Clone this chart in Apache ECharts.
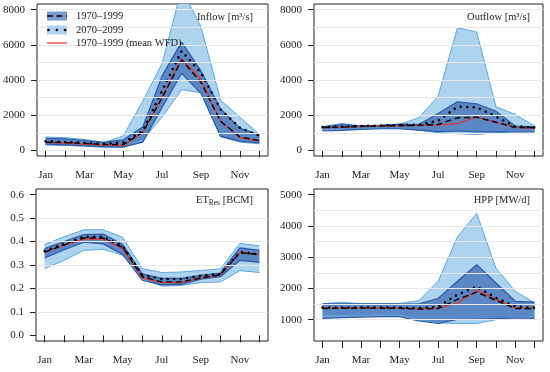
<!DOCTYPE html>
<html>
<head>
<meta charset="utf-8">
<script src="https://cdn.jsdelivr.net/npm/echarts@6/dist/echarts.min.js"></script>
<style>html,body{margin:0;padding:0;background:#fff}#c{width:550px;height:372px}</style>
</head>
<body>
<div id="c"></div>
<script>
// ---- data ----
const months = [1,2,3,4,5,6,7,8,9,10,11,12];
const monthLabels = ['Jan','Feb','Mar','Apr','May','Jun','Jul','Aug','Sep','Oct','Nov','Dec'];
const monthLabelTicks = [1,3,5,7,9,11];

// Inflow [m3/s]
const inflowFutLo   = [300, 280, 250, 170, 170, 600, 1900, 3450, 3280, 780, 470, 370];
const inflowFutHi   = [760, 720, 620, 450, 830, 2800, 4950, 9200, 7000, 2850, 1880, 900];
const inflowHistLo  = [350, 310, 260, 210, 200, 470, 2450, 4380, 3230, 800, 530, 430];
const inflowHistHi  = [680, 660, 560, 460, 600, 1330, 4250, 6150, 4500, 2350, 1250, 880];
const inflowHistMean= [470, 440, 400, 330, 330, 1030, 3000, 5150, 3850, 1650, 760, 560];
const inflowFutMean = [520, 480, 420, 370, 450, 1100, 3400, 5650, 4400, 2330, 1280, 830];
const inflowWFD     = [450, 410, 360, 300, 270, 1000, 3080, 5220, 4030, 1660, 720, 530];

// Outflow [m3/s]
const outFutLo   = [1150, 1180, 1220, 1250, 1250, 1150, 1000, 950, 900, 1000, 1080, 1100];
const outFutHi   = [1340, 1530, 1390, 1420, 1480, 1850, 3080, 6960, 6730, 2480, 2040, 1380];
const outHistLo  = [1100, 1140, 1190, 1230, 1230, 1150, 1060, 1100, 1050, 1050, 1050, 1050];
const outHistHi  = [1340, 1470, 1380, 1420, 1490, 1470, 2100, 2760, 2650, 2220, 1380, 1340];
const outHistMean= [1300, 1320, 1370, 1390, 1410, 1420, 1470, 1850, 1880, 1600, 1300, 1300];
const outFutMean = [1320, 1340, 1380, 1410, 1440, 1460, 1680, 2480, 2450, 1920, 1350, 1300];
const outWFD     = [1290, 1310, 1360, 1380, 1400, 1420, 1450, 1530, 1910, 1600, 1300, 1260];

// ET_Res [BCM]
const etFutLo   = [0.285, 0.32, 0.362, 0.367, 0.342, 0.242, 0.21, 0.213, 0.225, 0.228, 0.276, 0.268];
const etFutHi   = [0.388, 0.42, 0.45, 0.45, 0.418, 0.285, 0.268, 0.27, 0.277, 0.283, 0.392, 0.382];
const etHistLo  = [0.33, 0.365, 0.397, 0.39, 0.345, 0.235, 0.215, 0.217, 0.24, 0.25, 0.32, 0.311];
const etHistHi  = [0.37, 0.4, 0.43, 0.432, 0.387, 0.262, 0.243, 0.243, 0.256, 0.266, 0.373, 0.362];
const etHistMean= [0.355, 0.385, 0.415, 0.415, 0.375, 0.25, 0.228, 0.228, 0.245, 0.258, 0.352, 0.345];
const etFutMean = [0.36, 0.39, 0.42, 0.42, 0.38, 0.258, 0.24, 0.24, 0.255, 0.262, 0.355, 0.345];
const etWFD     = [0.355, 0.385, 0.41, 0.41, 0.37, 0.245, 0.225, 0.225, 0.245, 0.258, 0.355, 0.345];

// HPP [MW/d]
const hppFutLo   = [1130, 1135, 1140, 1150, 1150, 1000, 900, 880, 880, 1000, 1080, 1090];
const hppFutHi   = [1510, 1560, 1510, 1510, 1520, 1610, 2230, 3650, 4400, 2650, 1910, 1540];
const hppHistLo  = [1045, 1065, 1085, 1100, 1100, 960, 880, 1010, 1015, 1040, 1055, 1045];
const hppHistHi  = [1505, 1510, 1505, 1505, 1500, 1510, 1680, 2230, 2760, 2175, 1590, 1560];
const hppHistMean= [1360, 1365, 1370, 1370, 1365, 1340, 1360, 1650, 1880, 1620, 1360, 1350];
const hppFutMean = [1390, 1390, 1395, 1395, 1390, 1370, 1420, 1800, 2060, 1700, 1430, 1380];
const hppWFD     = [1370, 1375, 1380, 1380, 1375, 1350, 1370, 1530, 1950, 1650, 1380, 1370];

// axis tick labels
const flowTicks = [0, 2000, 4000, 6000, 8000];
const flowGrid  = [0, 1000, 2000, 3000, 4000, 5000, 6000, 7000, 8000];
const etTicks   = [0, 0.1, 0.2, 0.3, 0.4, 0.5, 0.6];
const etGrid    = [0.1, 0.2, 0.3, 0.4, 0.5];
const hppTicks  = [1000, 2000, 3000, 4000, 5000];
const hppGrid   = [1000, 1500, 2000, 2500, 3000, 3500, 4000, 4500];

// ---- style ----
const FONT = 'Liberation Serif';
const lightFill = '#aed3ee', lightEdge = '#5ba7dd';
const darkFill = 'rgba(35,85,170,0.6)', darkEdge = '#2a58a6';
const redCol = '#e8302b';

const panels = [
  {grid:{left:37, top:4, width:231, height:152}, ymin:-320, ymax:8320, ticks:flowTicks, gridv:flowGrid, fmt:v=>String(v),
   fLo:inflowFutLo, fHi:inflowFutHi, hLo:inflowHistLo, hHi:inflowHistHi, hM:inflowHistMean, fM:inflowFutMean, w:inflowWFD},
  {grid:{left:314, top:4, width:229, height:152}, ymin:-320, ymax:8320, ticks:flowTicks, gridv:flowGrid, fmt:v=>String(v),
   fLo:outFutLo, fHi:outFutHi, hLo:outHistLo, hHi:outHistHi, hM:outHistMean, fM:outFutMean, w:outWFD},
  {grid:{left:36, top:189, width:232, height:152}, ymin:-0.024, ymax:0.624, ticks:etTicks, gridv:etGrid, fmt:v=>Number(v).toFixed(1),
   fLo:etFutLo, fHi:etFutHi, hLo:etHistLo, hHi:etHistHi, hM:etHistMean, fM:etFutMean, w:etWFD},
  {grid:{left:314, top:189, width:229, height:152}, ymin:320, ymax:5180, ticks:hppTicks, gridv:hppGrid, fmt:v=>String(v),
   fLo:hppFutLo, fHi:hppFutHi, hLo:hppHistLo, hHi:hppHistHi, hM:hppHistMean, fM:hppFutMean, w:hppWFD}
];

const pts = arr => arr.map((v,i)=>[months[i], v]);

function bandSeries(i, lo, hi, fill, extra) {
  return Object.assign({
    type:'custom', xAxisIndex:i, yAxisIndex:i, silent:true, animation:false,
    data: hi.map((v,k)=>[months[k], lo[k], v]),
    encode:{x:0, y:[1,2]},
    renderItem:(params, api) => {
      if (params.dataIndex !== 0) return null;
      const top = hi.map((v,k)=>api.coord([months[k], v]));
      const bot = lo.map((v,k)=>api.coord([months[k], v])).reverse();
      const cs = params.coordSys;
      return {type:'group', children:[{type:'polygon', shape:{points:top.concat(bot)}, style:{fill:fill, stroke:null}}],
              clipPath:{type:'rect', shape:{x:cs.x, y:cs.y, width:cs.width, height:cs.height}}};
    }
  }, extra || {});
}

const grids = [], xAxes = [], yAxes = [], series = [];
panels.forEach((p, i) => {
  grids.push(Object.assign({show:true, borderColor:'#222', borderWidth:1, backgroundColor:'transparent'}, p.grid));
  xAxes.push({
    type:'value', gridIndex:i, min:0.56, max:12.44,
    axisLine:{show:false}, splitLine:{show:false},
    axisTick:{show:true, customValues:months, length:7, lineStyle:{color:'#222', width:1}},
    axisLabel:{customValues:monthLabelTicks, formatter:v=>monthLabels[Math.round(v)-1], margin:14,
               fontFamily:FONT, fontSize:11, color:'#222'}
  });
  yAxes.push({
    type:'value', gridIndex:i, min:p.ymin, max:p.ymax,
    axisLine:{show:false}, splitLine:{show:false},
    axisTick:{show:true, customValues:p.ticks, length:6, lineStyle:{color:'#222', width:1}},
    axisLabel:{customValues:p.ticks, formatter:p.fmt, margin:12, fontFamily:FONT, fontSize:11, color:'#222'}
  });
  const base = {type:'line', xAxisIndex:i, yAxisIndex:i, showSymbol:false, symbol:'none', silent:true, animation:false};
  series.push(bandSeries(i, p.fLo, p.fHi, lightFill, {
    markLine:{silent:true, symbol:'none', label:{show:false}, animation:false,
      lineStyle:{color:'#e8e8e8', type:'solid', width:1},
      data:p.gridv.map(v=>({yAxis:v}))}}));
  series.push(Object.assign({}, base, {data:pts(p.fLo), lineStyle:{color:lightEdge, width:1}}));
  series.push(Object.assign({}, base, {data:pts(p.fHi), lineStyle:{color:lightEdge, width:1}}));
  series.push(bandSeries(i, p.hLo, p.hHi, darkFill));
  series.push(Object.assign({}, base, {data:pts(p.hLo), lineStyle:{color:darkEdge, width:1.2}}));
  series.push(Object.assign({}, base, {data:pts(p.hHi), lineStyle:{color:darkEdge, width:1.2}}));
  series.push(Object.assign({}, base, {data:pts(p.w), lineStyle:{color:redCol, width:1.2}}));
  series.push(Object.assign({}, base, {data:pts(p.fM), lineStyle:{color:'#000', width:2.6, type:[0.01, 6.5], cap:'round'}}));
  series.push(Object.assign({}, base, {data:pts(p.hM), lineStyle:{color:'#000', width:1.4, type:[6, 3.5]}}));
});

const titleStyle = {fontFamily:FONT, fontSize:10.5, color:'#222', fontWeight:'normal'};
const titles = [
  {text:'Inflow [m³/s]', right:297, top:12, padding:0, z:50, textStyle:titleStyle},
  {text:'Outflow [m³/s]', right:20, top:12, padding:0, z:50, textStyle:titleStyle},
  {text:'{n|ET}{s|Res}{n| [BCM]}', right:297, top:194, padding:0, z:50,
   textStyle:Object.assign({}, titleStyle, {rich:{
     n:{fontFamily:FONT, fontSize:10.5, color:'#222'},
     s:{fontFamily:FONT, fontSize:7.5, color:'#222', verticalAlign:'bottom', padding:[5,0,0,0]}}})},
  {text:'HPP [MW/d]', right:20, top:195, padding:0, z:50, textStyle:titleStyle}
];

const legendText = {fontFamily:FONT, fontSize:10.5, fill:'#222'};
const graphic = [
  {type:'rect', z:100, shape:{x:47, y:11.5, width:20, height:9}, style:{fill:'rgba(35,85,170,0.6)'}},
  {type:'line', z:101, shape:{x1:47, y1:16, x2:67, y2:16}, style:{stroke:'#000', lineWidth:1.4, lineDash:[6,3.5]}},
  {type:'text', z:101, x:76, y:16, style:Object.assign({text:'1970–1999', verticalAlign:'middle'}, legendText)},
  {type:'rect', z:100, shape:{x:47, y:25.5, width:20, height:9}, style:{fill:lightFill}},
  {type:'circle', z:101, shape:{cx:48.5, cy:30, r:1.3}, style:{fill:'#000'}},
  {type:'circle', z:101, shape:{cx:56.8, cy:30, r:1.3}, style:{fill:'#000'}},
  {type:'circle', z:101, shape:{cx:65, cy:30, r:1.3}, style:{fill:'#000'}},
  {type:'text', z:101, x:76, y:30, style:Object.assign({text:'2070–2099', verticalAlign:'middle'}, legendText)},
  {type:'line', z:101, shape:{x1:47, y1:43, x2:67, y2:43}, style:{stroke:redCol, lineWidth:1.2}},
  {type:'text', z:101, x:76, y:43, style:Object.assign({text:'1970–1999 (mean WFD)', verticalAlign:'middle'}, legendText)}
];

const chart = echarts.init(document.getElementById('c'), null, {renderer:'canvas'});
chart.setOption({
  animation:false,
  backgroundColor:'#fff',
  title:titles,
  grid:grids, xAxis:xAxes, yAxis:yAxes, series:series,
  graphic:graphic
});
</script>
</body>
</html>
